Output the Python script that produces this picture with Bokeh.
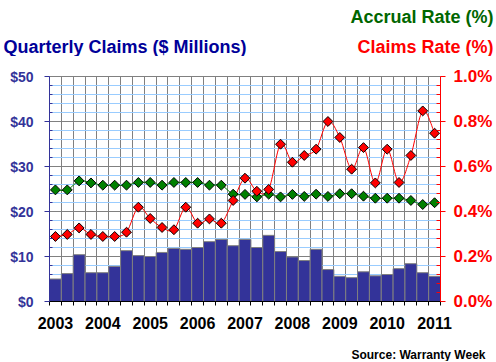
import numpy as np
from bokeh.plotting import figure
from bokeh.models import Range1d, LinearAxis, FixedTicker, NumeralTickFormatter, PrintfTickFormatter
from bokeh.core.properties import value
from bokeh.embed import file_html
from bokeh.resources import INLINE

years = ["2003", "2004", "2005", "2006", "2007", "2008", "2009", "2010", "2011"]

# Quarterly claims, $ millions (2003 Q1 .. 2011 Q1)
claims = [5.0, 6.2, 10.4, 6.4, 6.4, 7.8, 11.3, 10.2, 10.0, 10.9, 11.8, 11.6, 12.0, 13.3, 13.8, 12.4,
          13.8, 12.0, 14.7, 11.1, 9.9, 9.1, 11.6, 7.1, 5.6, 5.3, 6.6, 5.7, 6.0, 7.3, 8.4, 6.4, 5.6]

# Accrual rate (% of sales)
accrual_rate = [0.496, 0.496, 0.536, 0.527, 0.517, 0.517, 0.517, 0.529, 0.529, 0.517, 0.529, 0.529,
                0.529, 0.517, 0.517, 0.477, 0.476, 0.465, 0.477, 0.465, 0.476, 0.467, 0.477, 0.467,
                0.479, 0.479, 0.468, 0.459, 0.459, 0.459, 0.449, 0.431, 0.439]

# Claims rate (% of sales)
claims_rate = [0.289, 0.298, 0.327, 0.298, 0.289, 0.289, 0.308, 0.419, 0.369, 0.329, 0.319, 0.419,
               0.348, 0.367, 0.348, 0.449, 0.548, 0.490, 0.498, 0.699, 0.619, 0.649, 0.677, 0.800,
               0.729, 0.588, 0.684, 0.527, 0.677, 0.529, 0.649, 0.847, 0.748]

n = len(claims)
xc = np.arange(n) + 0.5

FONT = "Liberation Sans"
W = 496

# ---------------- header with the three series titles ----------------
HH = 56
h = figure(width=W, height=HH, x_range=Range1d(0, W), y_range=Range1d(HH, 0),
           output_backend="svg", toolbar_location=None, x_axis_location=None, y_axis_location=None,
           min_border=0, min_border_left=0, min_border_right=0, min_border_top=0, min_border_bottom=0,
           background_fill_color="white", border_fill_color="white")
h.grid.visible = False
h.outline_line_color = None
h.text(x=[493], y=[16], text=["Accrual Rate (%)"], text_font=value(FONT), text_font_style="bold",
       text_font_size="18px", text_color="#006600", text_align="right", text_baseline="alphabetic")
h.text(x=[3], y=[46], text=["Quarterly Claims ($ Millions)"], text_font=value(FONT), text_font_style="bold",
       text_font_size="18px", text_color="#000099", text_align="left", text_baseline="alphabetic")
h.text(x=[493], y=[46], text=["Claims Rate (%)"], text_font=value(FONT), text_font_style="bold",
       text_font_size="18px", text_color="#FF0000", text_align="right", text_baseline="alphabetic")

# ---------------- main chart ----------------
p = figure(width=W, height=280, x_range=Range1d(0, n), y_range=Range1d(0, 50),
           output_backend="svg", toolbar_location=None,
           min_border_left=49, min_border_right=56, min_border_top=20, min_border_bottom=35,
           background_fill_color="white", border_fill_color="white")
p.outline_line_color = "#808080"
p.extra_y_ranges = {"rate": Range1d(0, 1.0)}

left_ticker = FixedTicker(ticks=[0, 10, 20, 30, 40, 50],
                          minor_ticks=[v for v in range(2, 50, 2) if v % 10 != 0])
p.ygrid.ticker = left_ticker
p.ygrid.grid_line_color = "#808080"
p.ygrid.minor_grid_line_color = "#99CCFF"
p.xgrid.ticker = FixedTicker(ticks=list(range(n + 1)))
p.xgrid.grid_line_color = "#808080"

p.vbar(x=xc, top=claims, width=1.0, fill_color="#333399", line_color="#808080", line_width=1)


def smooth(xs, ys):
    xs = np.asarray(xs, float)
    ys = np.asarray(ys, float)
    m = len(xs)
    d = dict(x0=[], y0=[], x1=[], y1=[], cx0=[], cy0=[], cx1=[], cy1=[])
    for i in range(m - 1):
        a = max(i - 1, 0)
        b = min(i + 2, m - 1)
        d["x0"].append(xs[i]); d["y0"].append(ys[i])
        d["x1"].append(xs[i + 1]); d["y1"].append(ys[i + 1])
        d["cx0"].append(xs[i] + (xs[i + 1] - xs[a]) / 6)
        d["cy0"].append(ys[i] + (ys[i + 1] - ys[a]) / 6)
        d["cx1"].append(xs[i + 1] - (xs[b] - xs[i]) / 6)
        d["cy1"].append(ys[i + 1] - (ys[b] - ys[i]) / 6)
    return d


ga = smooth(xc, accrual_rate)
p.bezier(x0=ga["x0"], y0=ga["y0"], x1=ga["x1"], y1=ga["y1"], cx0=ga["cx0"], cy0=ga["cy0"],
         cx1=ga["cx1"], cy1=ga["cy1"], line_color="#008000", line_width=1, y_range_name="rate")
gc = smooth(xc, claims_rate)
p.bezier(x0=gc["x0"], y0=gc["y0"], x1=gc["x1"], y1=gc["y1"], cx0=gc["cx0"], cy0=gc["cy0"],
         cx1=gc["cx1"], cy1=gc["cy1"], line_color="#FF0000", line_width=1, y_range_name="rate")

p.scatter(xc, accrual_rate, marker="square", angle=np.pi / 4, size=7, fill_color="#008000",
          line_color="black", line_width=1, y_range_name="rate")
p.scatter(xc, claims_rate, marker="square", angle=np.pi / 4, size=7, fill_color="#FF0000",
          line_color="black", line_width=1, y_range_name="rate")

# left axis ($ millions)
ya = p.yaxis[0]
ya.ticker = left_ticker
ya.formatter = NumeralTickFormatter(format="$0")
ya.axis_line_color = "#333399"
ya.major_tick_line_color = "#333399"
ya.minor_tick_line_color = "#333399"
ya.major_tick_out = 5
ya.major_tick_in = 0
ya.minor_tick_in = 3
ya.minor_tick_out = 0
ya.major_label_standoff = 11
ya.major_label_text_font = FONT
ya.major_label_text_font_style = "bold"
ya.major_label_text_font_size = "14px"
ya.major_label_text_color = "#333399"

# right axis (%)
ra = LinearAxis(y_range_name="rate",
                ticker=FixedTicker(ticks=[0, 0.2, 0.4, 0.6, 0.8, 1.0],
                                   minor_ticks=[round(0.04 * k, 2) for k in range(1, 25) if k % 5 != 0]),
                formatter=PrintfTickFormatter(format="%.1f%%"))
ra.axis_line_color = "#FF0000"
ra.major_tick_line_color = "#FF0000"
ra.minor_tick_line_color = "#FF0000"
ra.major_tick_out = 5
ra.major_tick_in = 0
ra.minor_tick_in = 4
ra.minor_tick_out = 0
ra.major_label_standoff = 8
ra.major_label_text_font = FONT
ra.major_label_text_font_style = "bold"
ra.major_label_text_font_size = "17px"
ra.major_label_text_color = "#FF0000"
p.add_layout(ra, "right")

# bottom axis: year labels at Q1 bars, tick marks at each quarter boundary
year_pos = [4 * k + 0.5 for k in range(len(years))]
xa = p.xaxis[0]
xa.ticker = FixedTicker(ticks=year_pos, minor_ticks=list(range(n + 1)))
xa.major_label_overrides = {pos: yr for pos, yr in zip(year_pos, years)}
xa.axis_line_color = "black"
xa.major_tick_line_color = None
xa.major_tick_out = 0
xa.major_tick_in = 0
xa.minor_tick_line_color = "black"
xa.minor_tick_out = 4
xa.minor_tick_in = 0
xa.major_label_standoff = 11
xa.major_label_text_font = FONT
xa.major_label_text_font_style = "bold"
xa.major_label_text_font_size = "16px"
xa.major_label_text_color = "black"

# ---------------- footer with the source ----------------
FH = 25
f = figure(width=W, height=FH, x_range=Range1d(0, W), y_range=Range1d(FH, 0),
           output_backend="svg", toolbar_location=None, x_axis_location=None, y_axis_location=None,
           min_border=0, min_border_left=0, min_border_right=0, min_border_top=0, min_border_bottom=0,
           background_fill_color="white", border_fill_color="white")
f.grid.visible = False
f.outline_line_color = None
f.text(x=[485], y=[18], text=["Source: Warranty Week"], text_font=value(FONT), text_font_style="bold",
       text_font_size="12px", text_color="black", text_align="right", text_baseline="alphabetic")

open("out.html", "w").write(file_html([h, p, f], INLINE))
